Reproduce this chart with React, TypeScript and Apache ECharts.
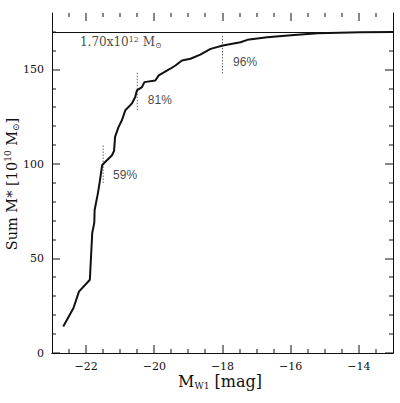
import React, { useEffect, useRef } from "react";
import * as echarts from "echarts";

// ---- data ----
const xRange = [-23, -13];
const yRange = [0, 180];
const xMajorTicks = [-22, -20, -18, -16, -14];
const xMinorTicks = [
  -22.5, -21.5, -21, -20.5, -19.5, -19, -18.5, -17.5, -17, -16.5, -15.5, -15, -14.5, -13.5,
];
const yMajorTicks = [0, 50, 100, 150];
const yMinorTicks = [10, 20, 30, 40, 60, 70, 80, 90, 110, 120, 130, 140, 160, 170];
const totalMass = 170;

const magnitudes = [
  -22.67, -22.37, -22.21, -21.89, -21.82, -21.76, -21.75, -21.66, -21.6, -21.53,
  -21.47, -21.24, -21.18, -21.15, -21.05, -20.95, -20.85, -20.66, -20.56, -20.51,
  -20.36, -20.29, -19.97, -19.87, -19.53, -19.38, -19.19, -18.94, -18.65, -18.35,
  -17.99, -17.47, -17.27, -16.69, -15.9, -15.21, -13.94, -13.0,
];
const cumulativeMass = [
  14, 23.8, 32.5, 38.8, 63.5, 69, 75.7, 84, 90.6, 99.4,
  100.6, 104.7, 107, 114.4, 119.6, 123.2, 128.5, 132, 135.5, 139,
  140.8, 143.4, 144.3, 147, 150.5, 152.2, 154.9, 155.8, 158, 161,
  162.8, 164.5, 165.8, 167.2, 168.4, 169.3, 169.8, 170,
];

const markerX = [-21.5, -20.5, -18];
const markerLow = [90, 128.5, 148];
const markerHigh = [110, 148.5, 168];
const markerLabels = ["59%", "81%", "96%"];
const markerLabelX = [-21.21, -20.19, -17.69];
const markerLabelY = [94, 133.7, 154];

const totalLabelPos = [-22.18, 164.4];

const SERIF = "'DejaVu Serif', 'Liberation Serif', serif";
const SANS = "'Liberation Sans', Arimo, sans-serif";
const INK = "#111";
const GRID = { left: 52, right: 7, top: 13, bottom: 50 };

function fmtTick(v: number) {
  return v < 0 ? "\u2212" + Math.abs(v) : String(v);
}

function mainOption() {
  const curve = magnitudes.map((m, i) => [m, cumulativeMass[i]]);
  const markerSeries = markerX.map((x, i) => ({
    type: "line",
    data: [
      [x, markerLow[i]],
      [x, markerHigh[i]],
    ],
    symbol: "none",
    lineStyle: { color: "#666", width: 1, type: [1.5, 1.5] },
    silent: true,
    z: 1,
  }));

  // tick rows: [x, y, kind]  kind 0 = x major, 1 = x minor, 2 = y major, 3 = y minor
  const tickRows: number[][] = [
    ...xMajorTicks.map((v) => [v, yRange[0], 0]),
    ...xMinorTicks.map((v) => [v, yRange[0], 1]),
    ...yMajorTicks.map((v) => [xRange[0], v, 2]),
    ...yMinorTicks.map((v) => [xRange[0], v, 3]),
  ];
  const fill = { fill: INK };
  const renderTick = (_p: any, api: any) => {
    const x = api.value(0);
    const y = api.value(1);
    const k = api.value(2);
    const len = k === 0 || k === 2 ? 8 : 4;
    if (k < 2) {
      const b = api.coord([x, yRange[0]]);
      const t = api.coord([x, yRange[1]]);
      const px = Math.round(b[0]) - 0.5;
      return {
        type: "group",
        children: [
          { type: "rect", shape: { x: px, y: b[1] - len, width: 1, height: len }, style: fill },
          { type: "rect", shape: { x: px, y: t[1], width: 1, height: len }, style: fill },
        ],
      };
    }
    const l = api.coord([xRange[0], y]);
    const r = api.coord([xRange[1], y]);
    const py = Math.round(l[1]) - 0.5;
    return {
      type: "group",
      children: [
        { type: "rect", shape: { x: l[0], y: py, width: len, height: 1 }, style: fill },
        { type: "rect", shape: { x: r[0] - len, y: py, width: len, height: 1 }, style: fill },
      ],
    };
  };

  const frame = (extra: any) => ({
    type: "value",
    splitLine: { show: false },
    axisLine: { show: true, lineStyle: { color: INK, width: 1 } },
    axisTick: { show: false },
    ...extra,
  });
  return {
    animation: false,
    grid: GRID,
    xAxis: [
      frame({
        min: xRange[0],
        max: xRange[1],
        position: "bottom",
        axisLabel: { customValues: xMajorTicks, formatter: fmtTick, fontFamily: SERIF, fontSize: 11, color: INK, margin: 8 },
      }),
      frame({ min: xRange[0], max: xRange[1], position: "top", axisLabel: { show: false } }),
    ],
    yAxis: [
      frame({
        min: yRange[0],
        max: yRange[1],
        position: "left",
        axisLabel: { customValues: yMajorTicks, fontFamily: SERIF, fontSize: 11, color: INK, margin: 8 },
      }),
      frame({ min: yRange[0], max: yRange[1], position: "right", axisLabel: { show: false } }),
    ],
    series: [
      {
        type: "custom",
        data: tickRows,
        renderItem: renderTick,
        silent: true,
        clip: false,
        z: 10,
      },
      {
        type: "line",
        data: curve,
        symbol: "none",
        lineStyle: { color: INK, width: 2 },
        z: 3,
        markLine: {
          silent: true,
          symbol: "none",
          label: { show: false },
          lineStyle: { color: INK, width: 1, type: "solid" },
          data: [{ yAxis: totalMass }],
        },
      },
      ...markerSeries,
      {
        type: "scatter",
        data: markerLabels.map((t, i) => ({ value: [markerLabelX[i], markerLabelY[i]], name: t })),
        symbolSize: 0,
        label: {
          show: true,
          position: "right",
          distance: 0,
          formatter: (p: any) => p.name,
          fontFamily: SANS,
          fontSize: 12,
          color: INK,
        },
        silent: true,
      },
      {
        type: "scatter",
        data: [{ value: totalLabelPos, name: "total" }],
        symbolSize: 0,
        label: {
          show: true,
          position: "right",
          distance: 0,
          formatter: "{a|1.70x10}{s|12}{a| M}{b|\u2299}",
          color: INK,
          rich: {
            a: { fontFamily: SERIF, fontSize: 12, color: INK, lineHeight: 14 },
            s: { fontFamily: SERIF, fontSize: 8, color: INK, verticalAlign: "top", lineHeight: 14 },
            b: { fontFamily: SERIF, fontSize: 8, color: INK, verticalAlign: "bottom", lineHeight: 14 },
          },
        },
        silent: true,
      },
    ],
    graphic: [
      {
        type: "text",
        x: 12,
        y: 184,
        rotation: Math.PI / 2,
        style: {
          text: "{a|Sum M* [10}{s|10}{a| M}{b|\u2299}{a|]}",
          align: "center",
          verticalAlign: "middle",
          fill: INK,
          rich: {
            a: { fontFamily: SERIF, fontSize: 14.5, fill: INK, lineHeight: 17 },
            s: { fontFamily: SERIF, fontSize: 9, fill: INK, verticalAlign: "top", lineHeight: 17 },
            b: { fontFamily: SERIF, fontSize: 9, fill: INK, verticalAlign: "bottom", lineHeight: 17 },
          },
        },
      },
      {
        type: "text",
        x: 220,
        y: 381,
        style: {
          text: "{a|M}{b|W1}{a| [mag]}",
          align: "center",
          verticalAlign: "middle",
          fill: INK,
          rich: {
            a: { fontFamily: SERIF, fontSize: 16, fill: INK, lineHeight: 18 },
            b: { fontFamily: SERIF, fontSize: 9, fill: INK, verticalAlign: "bottom", lineHeight: 18 },
          },
        },
      },
    ],
  };
}

export default function App() {
  const mainRef = useRef<HTMLDivElement>(null);
  useEffect(() => {
    if (!mainRef.current) return;
    const main = echarts.init(mainRef.current, undefined, { renderer: "svg" });
    main.setOption(mainOption());
    return () => {
      main.dispose();
    };
  }, []);

  return (
    <div
      ref={mainRef}
      style={{ position: "fixed", left: 0, top: 0, width: 400, height: 403, background: "#fff" }}
    />
  );
}
